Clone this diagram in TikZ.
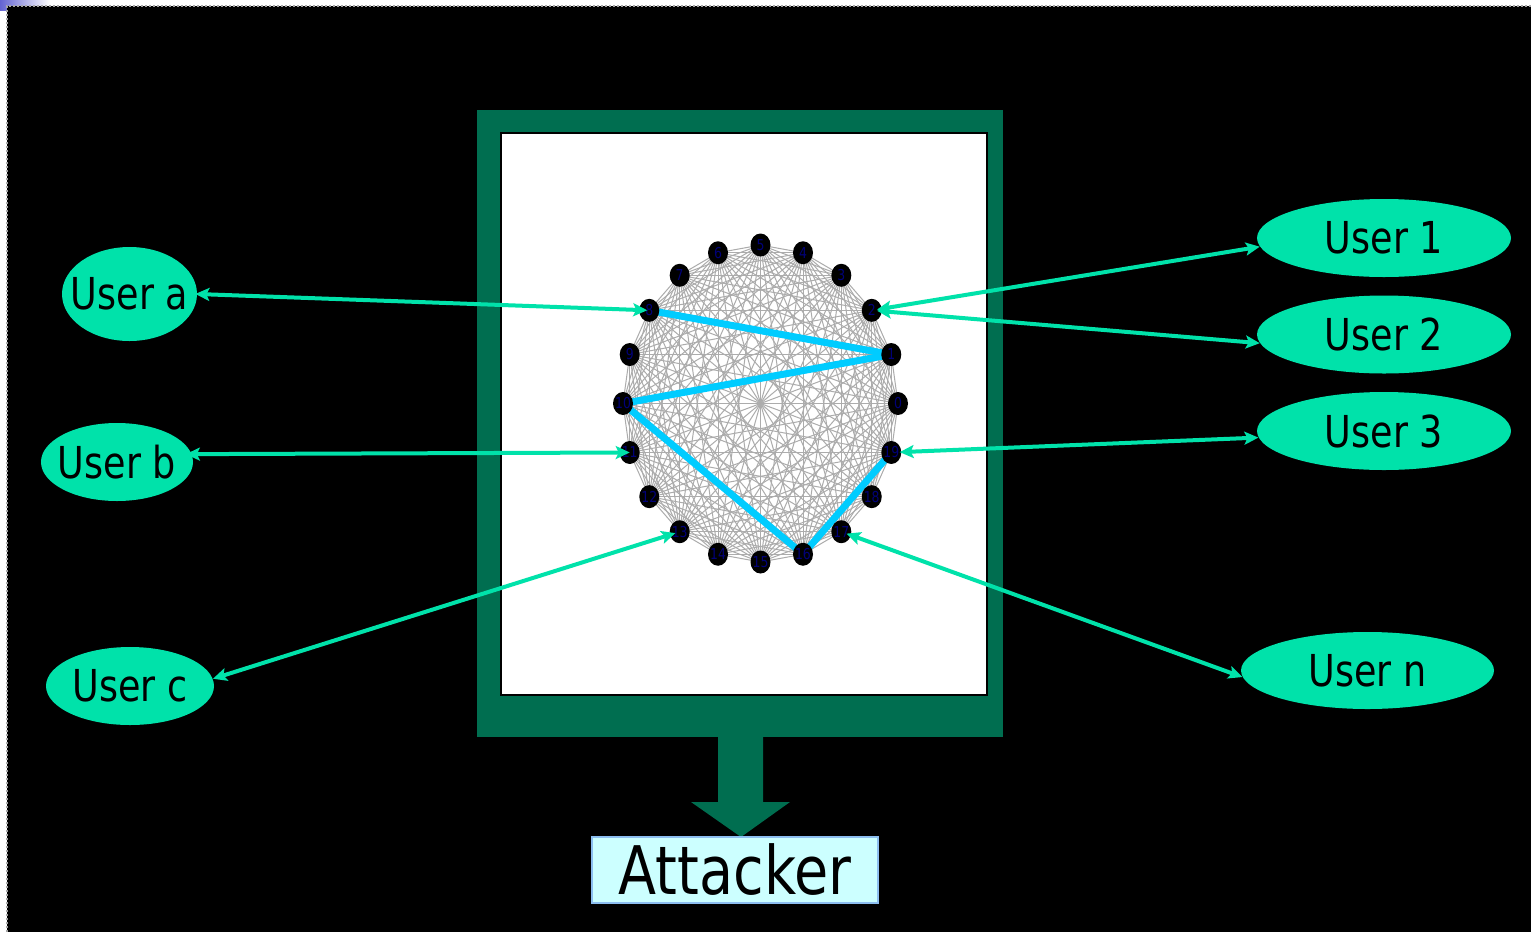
\documentclass[tikz,border=0pt]{standalone}
\usepackage{fontspec}
\setmainfont{DejaVu Sans}[FakeStretch=0.83]
\usetikzlibrary{shapes.geometric,arrows.meta}
\pgfdeclarelayer{back}
\pgfdeclarelayer{edges}
\pgfsetlayers{back,edges,main}
\definecolor{frameg}{RGB}{0,110,80}
\definecolor{userg}{RGB}{0,226,170}
\definecolor{hlblue}{RGB}{0,204,255}
\definecolor{attfill}{RGB}{204,255,255}
\definecolor{attdraw}{RGB}{140,190,240}
\definecolor{numc}{RGB}{0,0,120}
\definecolor{meshgray}{RGB}{172,172,172}
\definecolor{slideblue}{RGB}{100,100,210}
\tikzset{
  userell/.style={ellipse, fill=userg, inner sep=0pt, font=\fontsize{22}{22}\selectfont, text=black},
  peer/.style={ellipse, fill=black, inner sep=0pt, minimum width=10pt, minimum height=11.5pt, font=\fontsize{7.5}{7.5}\selectfont, text=numc},
  peerlink/.style={draw=userg, line width=2pt, arrows={Stealth[length=7pt,width=6.5pt,inset=1.5pt]-Stealth[length=7pt,width=6.5pt,inset=1.5pt]}},
  meshline/.style={draw=meshgray, line width=0.5pt},
  hopline/.style={draw=hlblue, line width=3.5pt},
}
\begin{document}
\begin{tikzpicture}[x=0.5pt,y=-0.5pt]
\useasboundingbox (0,0) rectangle (1531,932);
\begin{pgfonlayer}{back}
  \fill[white] (0,0) rectangle (1531,932);
  \shade[left color=slideblue, right color=white] (0,0) rectangle (50,10);
  \fill[black] (7,6) rectangle (1531,932);
  \draw[gray!70, line width=0.6pt, dash pattern=on 1pt off 1pt] (7,932) -- (7,6) -- (1531,6);
  \fill[frameg] (477,110) rectangle (1003,737);
  \fill[frameg] (718,736) -- (718,802) -- (691,802) -- (741,837) -- (790,802) -- (763,802) -- (763,736) -- cycle;
  \filldraw[fill=white, draw=black, line width=1pt] (501,133) rectangle (987,695);
\end{pgfonlayer}

% peers on a ring
\foreach \k in {0,...,19}
  \node[peer] (n\k) at ({760.5+137.5*cos(18*\k)},{403.5-158.5*sin(18*\k)}) {\makebox[0pt]{\k}};

\begin{pgfonlayer}{edges}
  \foreach \i in {0,...,18}{
    \pgfmathtruncatemacro{\s}{\i+1}
    \foreach \j in {\s,...,19}{
      \draw[meshline] (n\i.center) -- (n\j.center);
    }
  }
  \draw[hopline] (n8.center) -- (n1.center);
  \draw[hopline] (n1.center) -- (n10.center);
  \draw[hopline] (n10.center) -- (n16.center);
  \draw[hopline] (n16.center) -- (n19.center);
\end{pgfonlayer}

% users
\node[userell, minimum width=67.5pt, minimum height=47pt] (ua) at (129.5,294) {\makebox[0pt]{User a}};
\node[userell, minimum width=76pt, minimum height=39pt] (ub) at (117,462) {\makebox[0pt]{User b}};
\node[userell, minimum width=84pt, minimum height=39pt] (uc) at (130,686) {\makebox[0pt]{User c}};
\node[userell, minimum width=127pt, minimum height=39pt] (u1) at (1384,238) {\makebox[0pt]{User 1}};
\node[userell, minimum width=127pt, minimum height=39pt] (u2) at (1384,334.5) {\makebox[0pt]{User 2}};
\node[userell, minimum width=127pt, minimum height=39pt] (u3) at (1384,431) {\makebox[0pt]{User 3}};
\node[userell, minimum width=126.5pt, minimum height=38.5pt] (un) at (1367.5,670.5) {\makebox[0pt]{User n}};

% connections
\draw[peerlink, shorten <=-1pt, shorten >=1pt] (ua.0) -- (n8.center);
\draw[peerlink, shorten <=-3pt] (ub.6) -- (n11.center);
\draw[peerlink, shorten >=-3pt] (uc.5) -- (n13);
\draw[peerlink, shorten >=-2.5pt] (u1.184) -- (n2);
\draw[peerlink, shorten >=-2.5pt] (u2.184) -- (n2);
\draw[peerlink, shorten >=-1pt] (u3.183) -- (n19);
\draw[peerlink, shorten >=-2.5pt] (un.183) -- (n17);

% attacker
\node[fill=attfill, draw=attdraw, line width=1pt, minimum width=143pt, minimum height=33pt, inner sep=0pt, font=\fontsize{33.5}{33.5}\selectfont] (att) at (735,870) {Attacker};
\end{tikzpicture}
\end{document}
